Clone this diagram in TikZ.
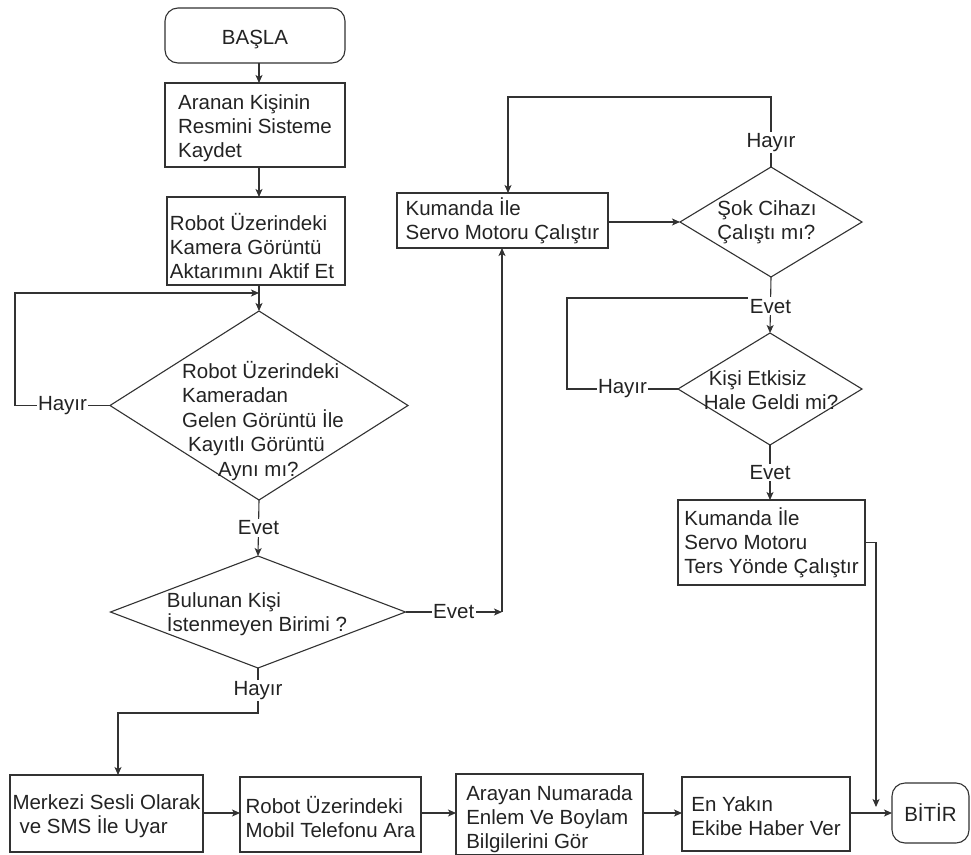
\documentclass[tikz,border=0pt]{standalone}
\usepackage{fontspec}
\setmainfont{Liberation Sans}
\usetikzlibrary{shapes.geometric,arrows.meta,calc}
\definecolor{ln}{RGB}{50,50,50}
\definecolor{tx}{RGB}{35,35,35}
\newcommand{\topstrut}[1]{\rule{0pt}{#1pt}}
\begin{document}
\begin{tikzpicture}[x=1pt,y=-1pt,
  every node/.style={font=\fontsize{20.5}{24}\selectfont, text=tx, outer sep=0pt},
  box/.style={draw=ln, line width=1.1pt, rectangle, align=left, inner sep=2pt},
  term/.style={draw=ln, line width=1.1pt, rectangle, rounded corners=13pt, align=center},
  diam/.style={draw=ln, line width=1.1pt, diamond, inner sep=0pt},
  txt/.style={align=left, inner sep=0pt},
  lbl/.style={fill=white, inner sep=1.5pt},
  line/.style={draw=ln, line width=1.1pt},
  arr/.style={line, -{Stealth[length=8pt,width=7pt,inset=2pt]}}
]
\useasboundingbox (0,0) rectangle (971,854);
\fill[white] (0,0) rectangle (971,854);

% left column
\node[term, minimum width=180pt, minimum height=55pt] (start) at (255,35.5) {\topstrut{22.7}BAŞLA};
\node[box, minimum width=180pt, minimum height=84pt] (b1) at (255,125) {\topstrut{22}Aranan Kişinin\\Resmini Sisteme\\Kaydet};
\node[box, minimum width=178pt, minimum height=88pt] (b2) at (256,241) {\topstrut{26.6}Robot Üzerindeki\\Kamera Görüntü\\Aktarımını Aktif Et\hspace*{8pt}};
\node[diam, minimum width=298pt, minimum height=189pt] (d1) at (259,405.5) {};
\node[txt, font=\fontsize{20.5}{24.5}\selectfont] (d1t) at (263,421) {Robot Üzerindeki\\Kameradan\\Gelen Görüntü İle\\\hspace*{6pt}Kayıtlı Görüntü\\\hspace*{36pt}Aynı mı?};
\node[diam, minimum width=295pt, minimum height=112pt] (d2) at (258,612) {};
\node[txt] (d2t) at (257,614) {Bulunan Kişi\\İstenmeyen Birimi ?};

% bottom row
\node[box, minimum width=193pt, minimum height=77pt, inner xsep=0pt] (m) at (106.5,813.5) {\topstrut{20.7}Merkezi Sesli Olarak\\\hspace*{7pt}ve SMS İle Uyar};
\node[box, minimum width=181pt, minimum height=75pt] (r) at (330.5,814.5) {\topstrut{22.6}Robot Üzerindeki\\Mobil Telefonu Ara};
\node[box, minimum width=187pt, minimum height=75pt] (a) at (549.5,814.5) {\topstrut{24.7}Arayan Numarada\\Enlem Ve Boylam\\Bilgilerini Gör};
\node[box, minimum width=168pt, minimum height=74pt] (e) at (766,814) {\topstrut{18.7}En Yakın\\Ekibe Haber Ver};
\node[term, minimum width=77pt, minimum height=60pt] (end) at (930.5,813) {BİTİR};

% right column
\node[box, minimum width=211pt, minimum height=55pt] (k1) at (502.5,220.5) {Kumanda İle\\Servo Motoru Çalıştır};
\node[diam, minimum width=182pt, minimum height=110pt] (s) at (771,222) {};
\node[txt] (st) at (767,222) {Şok Cihazı\\Çalıştı mı?};
\node[diam, minimum width=184pt, minimum height=112pt] (k) at (770,389) {};
\node[txt] (kt) at (771,390) {\hspace*{5pt}Kişi Etkisiz\\Hale Geldi mi?};
\node[box, minimum width=187pt, minimum height=85pt] (t) at (771.5,542.5) {Kumanda İle\\Servo Motoru\\Ters Yönde Çalıştır};

% helper coordinates
\coordinate (jn1) at (259,293);
\coordinate (lx) at (15,0);
\coordinate (jn2) at (502,612);
\coordinate (hy) at (0,713);
\coordinate (mx) at (118,0);
\coordinate (by) at (0,813);
\coordinate (jn3) at (876,807);
\coordinate (ty) at (0,97);
\coordinate (k1x) at (508,0);
\coordinate (lx2) at (567,0);
\coordinate (jn4) at (770,298);

% left column connectors
\draw[arr] (start.south -| d1.north) -- (b1.north -| d1.north);
\draw[arr] (b1.south -| d1.north) -- (b2.north -| d1.north);
\draw[arr] (b2.south -| d1.north) -- (d1.north);
\draw[arr] (d1.west) -- node[lbl]{Hayır} (d1.west -| lx) |- (jn1);
\draw[arr] (d1.south) -- node[lbl]{Evet} (d2.north);
\draw[arr] (d2.east) -- node[lbl]{Evet} (jn2);
\draw[arr] (jn2) -- (jn2 |- k1.south);
\draw[arr] (d2.south) -- node[lbl]{Hayır} (d2.south |- hy) -| (m.north -| mx);

% bottom row connectors
\draw[arr] (m.east |- by) -- (r.west |- by);
\draw[arr] (r.east |- by) -- (a.west |- by);
\draw[arr] (a.east |- by) -- (e.west |- by);
\draw[arr] (e.east |- by) -- (end.west |- by);

% right column connectors
\draw[arr] (k1.east |- s.west) -- (s.west);
\draw[arr] (s.north) -- node[lbl, pos=0.35]{Hayır} (s.north |- ty) -| (k1.north -| k1x);
\draw[line] (k.west) -- node[lbl]{Hayır} (k.west -| lx2) |- (jn4);
\draw[arr] (s.south) -- node[lbl, pos=0.52]{Evet} (k.north);
\draw[arr] (k.south) -- node[lbl]{Evet} (t.north -| k.south);
\draw[arr] (t.east) -| (jn3);
\end{tikzpicture}
\end{document}
